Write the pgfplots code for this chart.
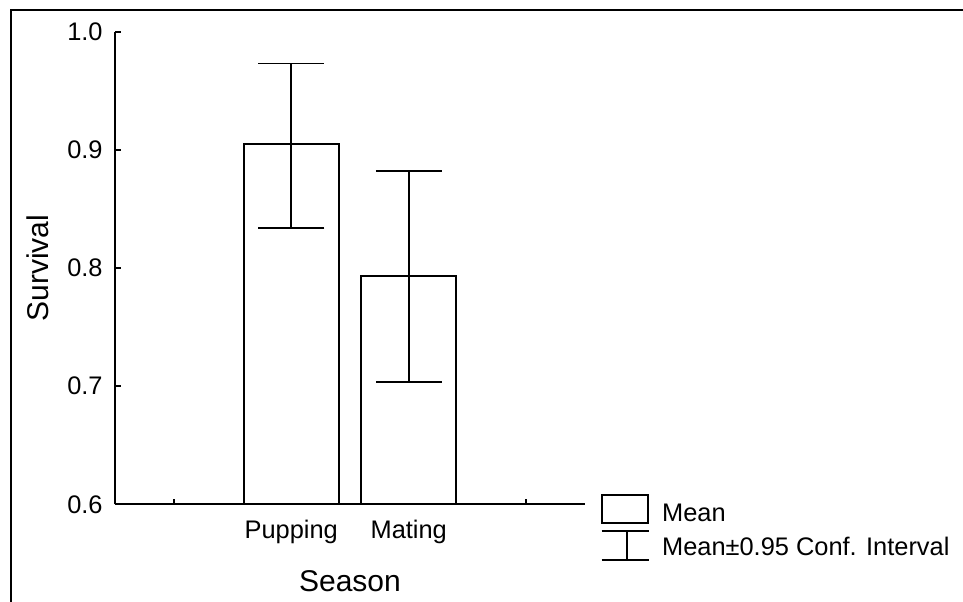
\documentclass[border=0pt]{standalone}
\usepackage{fontspec}
\setmainfont{Liberation Sans}
\usepackage{pgfplots}
\pgfplotsset{compat=1.18}
\begin{document}
\begin{tikzpicture}
\useasboundingbox (0,0) rectangle (481.5pt,-300.5pt);
\draw[line width=1.1pt] (5.5pt,-302pt) -- (5.5pt,-5.15pt) -- (483pt,-5.15pt);
\begin{axis}[
  at={(57.5pt,-252.15pt)}, anchor=south west,
  scale only axis, width=235pt, height=236.3pt,
  xmin=-0.5, xmax=3.5, ymin=0.6, ymax=1.0,
  axis x line=bottom, axis y line=left,
  axis line style={-, line width=0.85pt},
  every tick/.style={black, line width=0.85pt},
  major tick length=2.8pt, tick align=inside,
  xtick={0,1,2,3}, xticklabels={,Pupping,Mating,},
  ytick={0.6,0.7,0.8,0.9,1.0}, yticklabels={0.6,0.7,0.8,0.9,1.0},
  /pgf/number format/assume math mode=true,
  tick label style={font=\fontsize{12.7}{15}\selectfont},
  xticklabel style={anchor=north, inner sep=0pt, yshift=-7.85pt},
  yticklabel style={anchor=east, inner sep=0pt, xshift=-6pt},
  xlabel={Season}, ylabel={Survival},
  label style={font=\fontsize{15}{18}\selectfont},
  xlabel style={at={(axis description cs:0.5,-0.1397)}, anchor=north, inner sep=0pt},
  ylabel style={at={(axis description cs:-0.1404,0.5)}, rotate=0, anchor=south, inner sep=0pt},
]
\addplot[ybar, bar width=47.5pt, bar shift=0pt, draw=black, fill=white, line width=0.85pt,
  error bars/.cd, y dir=both, y explicit,
  error bar style={line width=0.85pt, black},
  error mark options={line width=0.85pt, black, mark size=16.5pt, rotate=90}]
  coordinates {
    (1,0.905) += (0,0.068) -= (0,0.071)
    (2,0.793) += (0,0.089) -= (0,0.0895)
  };
\end{axis}
% legend
\draw[line width=0.85pt] (300.85pt,-247.5pt) rectangle (324.15pt,-261.65pt);
\draw[line width=0.85pt] (300.85pt,-265.5pt) -- (324.65pt,-265.5pt);
\draw[line width=0.85pt] (300.85pt,-280pt) -- (324.65pt,-280pt);
\draw[line width=0.85pt] (313.35pt,-265.5pt) -- (313.35pt,-280pt);
\node[anchor=base west, inner sep=0pt, font=\fontsize{12.7}{15}\selectfont] at (330.85pt,-260.85pt) {Mean};
\node[anchor=base west, inner sep=0pt, font=\fontsize{12.7}{15}\selectfont] at (330.85pt,-277.5pt) {Mean±0.95 Conf. Interval};
\end{tikzpicture}
\end{document}
